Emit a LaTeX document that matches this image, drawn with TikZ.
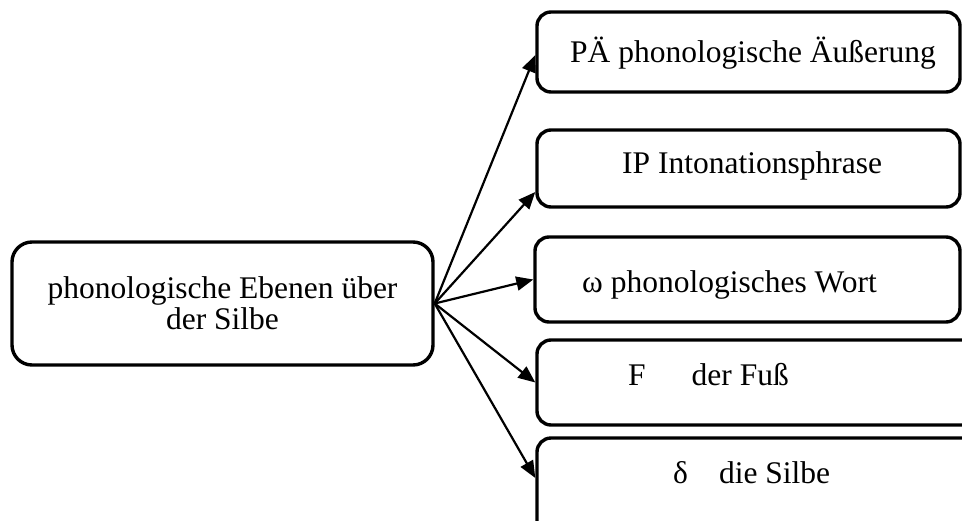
\documentclass[tikz,border=0pt]{standalone}
\usepackage{fontspec}
\setmainfont{Liberation Serif}
\usetikzlibrary{arrows.meta}
\tikzset{
  levelbox/.style={draw, line width=3.4pt, rounded corners=14pt, inner sep=0pt},
  levellabel/.style={anchor=base west, inner sep=0pt},
  levelarrow/.style={line width=2.2pt, -{Triangle[length=17pt,width=14pt]}}
}
\begin{document}
\begin{tikzpicture}[x=1pt,y=-1pt,font=\fontsize{31.5}{31}\selectfont]
      \useasboundingbox (0,0) rectangle (962,520);
      \clip (0,0) rectangle (962,520);
      \draw
        (222.5,303.5) node[levelbox, rounded corners=20pt, minimum width=421pt, minimum height=123pt, align=center] (ebenen){phonologische Ebenen über\\der Silbe}
        (748.5,52) node[levelbox, minimum width=423pt, minimum height=80pt] (pae){}
        (748.5,168.5) node[levelbox, minimum width=423pt, minimum height=77pt] (ip){}
        (747.5,279.5) node[levelbox, minimum width=425pt, minimum height=85pt] (wort){}
        (777,382.5) node[levelbox, minimum width=480pt, minimum height=85pt] (fuss){}
        (777,493) node[levelbox, minimum width=480pt, minimum height=110pt] (silbe){};
      \draw
        (570,62) node[levellabel] (paetext){PÄ phonologische Äußerung}
        (622,173) node[levellabel] (iptext){IP Intonationsphrase}
        (582,292) node[levellabel] (worttext){ω phonologisches Wort}
        (628,385) node[levellabel] (fusstext){F\hspace{46pt}der Fuß}
        (673,483) node[levellabel] (silbetext){δ\hspace{31pt}die Silbe};
      \begin{scope}[levelarrow]
        \draw (ebenen.east) to ([yshift=-3pt]pae.west);
        \draw (ebenen.east) to ([yshift=-23.5pt]ip.west);
        \draw (ebenen.east) to (wort.west);
        \draw (ebenen.east) to (fuss.west);
        \draw (ebenen.east) to ([yshift=15pt]silbe.west);
      \end{scope}
    \end{tikzpicture}
\end{document}
